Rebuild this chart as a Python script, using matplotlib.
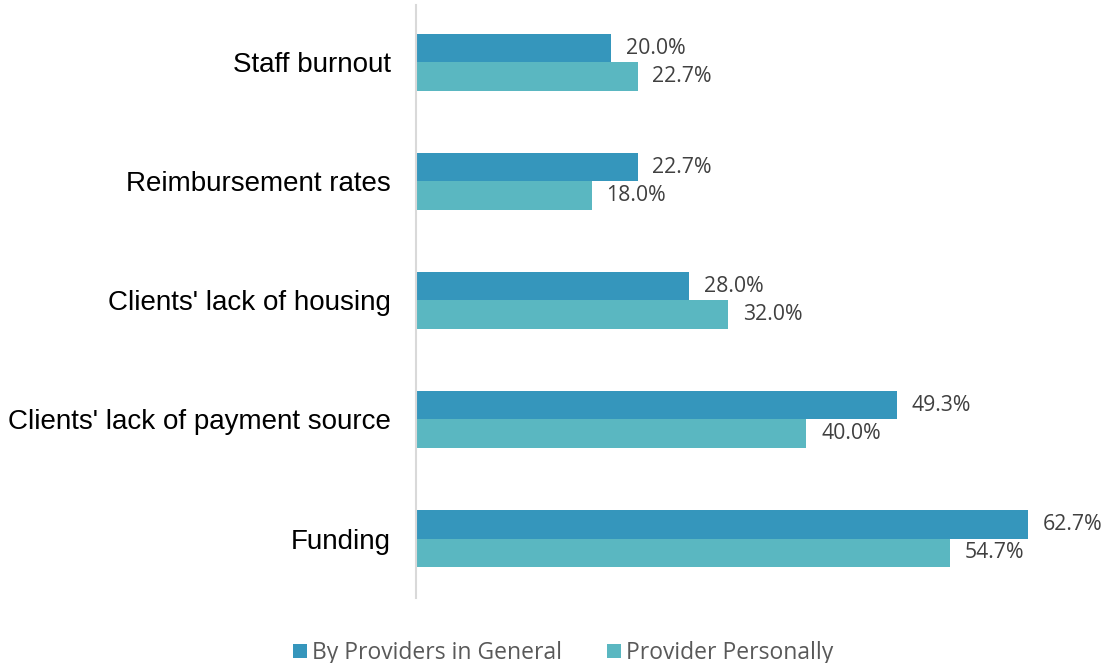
import matplotlib
matplotlib.use("Agg")
import numpy as np
import matplotlib.pyplot as plt

categories = ["Staff burnout", "Reimbursement rates", "Clients' lack of housing",
              "Clients' lack of payment source", "Funding"]
general = [20.0, 22.7, 28.0, 49.3, 62.7]
personal = [22.7, 18.0, 32.0, 40.0, 54.7]
series_names = ["By Providers in General", "Provider Personally"]
colors = ["#3596BC", "#5AB7C1"]

fig = plt.figure(figsize=(11.02, 6.63), dpi=100)
ax = fig.add_axes([0.3775, 0.098, 0.62, 0.894])

y = np.arange(len(categories))
h = 0.24
b1 = ax.barh(y - h / 2, general, height=h, color=colors[0], label=series_names[0])
b2 = ax.barh(y + h / 2, personal, height=h, color=colors[1], label=series_names[1])

for bars, vals in [(b1, general), (b2, personal)]:
    for bar, v in zip(bars, vals):
        ax.text(v + 1.5, bar.get_y() + bar.get_height() / 2, f"{v:.1f}%",
                va="center", ha="left", fontsize=15.3, color="#404040",
                family="Open Sans")

ax.set_xlim(0, 70)
ax.set_ylim(len(categories) - 0.5, -0.48)
ax.set_yticks(y)
ax.set_yticklabels(categories, fontsize=20, family="Liberation Sans", color="black")
ax.tick_params(axis="y", length=0, pad=18)
ax.set_xticks([])
for s in ["top", "right", "bottom"]:
    ax.spines[s].set_visible(False)
ax.spines["left"].set_color("#D9D9D9")
ax.spines["left"].set_linewidth(1.5)

leg = fig.legend(loc="lower center", bbox_to_anchor=(0.511, -0.034), ncol=2, frameon=False,
                 prop={"family": "Open Sans", "size": 16.5}, handlelength=0.6,
                 handleheight=0.6, handletextpad=0.2, columnspacing=2.0)
for t in leg.get_texts():
    t.set_color("#595959")

fig.savefig("out.png", dpi=100)
